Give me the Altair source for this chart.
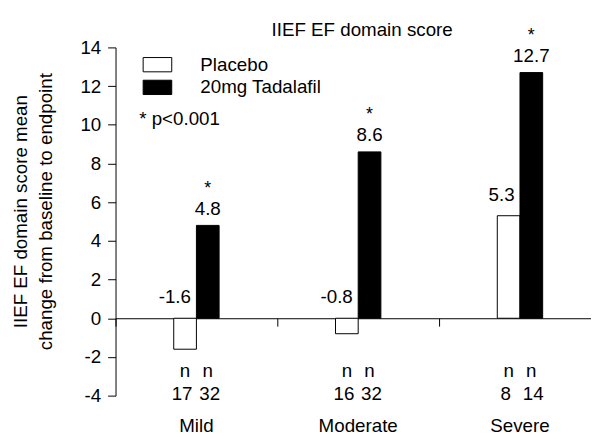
import altair as alt
import pandas as pd

# ---- data ----
categories = ["Mild", "Moderate", "Severe"]
groups = ["Placebo", "20mg Tadalafil"]
placebo_change = [-1.6, -0.8, 5.3]
tadalafil_change = [4.8, 8.6, 12.7]
placebo_n = [17, 16, 8]
tadalafil_n = [32, 32, 14]
tadalafil_significant = [True, True, True]
y_ticks = [-4, -2, 0, 2, 4, 6, 8, 10, 12, 14]
y_title = ["IIEF EF domain score mean", "change from baseline to endpoint"]
chart_title = ["IIEF EF domain score"]
p_note = ["* p<0.001"]
n_header_row = -2.75
n_count_row = -3.9

rows = []
for i, c in enumerate(categories):
    rows.append(dict(category=c, group=groups[0], value=placebo_change[i],
                     n=str(placebo_n[i]), star=""))
    rows.append(dict(category=c, group=groups[1], value=tadalafil_change[i],
                     n=str(tadalafil_n[i]), star="*" if tadalafil_significant[i] else ""))
df = pd.DataFrame(rows)
df["label_y"] = df["value"].clip(lower=0)
df["label"] = df["value"].map(lambda v: f"{v:.1f}")
df["nhead"] = "n"

FONT = "Liberation Sans"
FS = 19
W, H = 482, 353
BAND_SPAN = 492
BAND = BAND_SPAN / len(categories)
BAR_W = 23
ZERO_OFFSET = -H * (0 - y_ticks[0]) / (y_ticks[-1] - y_ticks[0])

x_scale = alt.Scale(domain=categories, range=[0, BAND_SPAN], paddingInner=0, paddingOuter=0)
xo_scale = alt.Scale(domain=groups, paddingInner=0, paddingOuter=0,
                     range=[BAND / 2 - BAR_W, BAND / 2 + BAR_W])
y_scale = alt.Scale(domain=[y_ticks[0], y_ticks[-1]], nice=False, zero=False)

base = alt.Chart(df)


def xnone():
    return alt.X("category:N", scale=x_scale, axis=None)


def xo():
    return alt.XOffset("group:N", scale=xo_scale)


bars = base.mark_bar(stroke="black", strokeWidth=1).encode(
    x=alt.X("category:N", scale=x_scale,
            axis=alt.Axis(orient="bottom", domain=False, ticks=False, labelAngle=0,
                          labelPadding=21, labelFontSize=FS, labelColor="black",
                          labelFont=FONT, title=None)),
    xOffset=xo(),
    y=alt.Y("value:Q", scale=y_scale, stack=None,
            axis=alt.Axis(values=y_ticks, tickSize=8, labelPadding=7, grid=False,
                          labelExpr="'' + datum.value",
                          labelFontSize=FS, labelColor="black", labelFont=FONT,
                          domainColor="black", tickColor="black",
                          title=y_title, titleFontSize=FS, titleFontWeight="normal",
                          titleColor="black", titleFont=FONT, titleLineHeight=25,
                          titlePadding=25, titleY=166)),
    color=alt.Color("group:N", scale=alt.Scale(domain=groups, range=["white", "black"]),
                    legend=alt.Legend(title=None, orient="none", direction="vertical",
                                      legendX=33, legendY=8,
                                      symbolType="M-2,-1H2V1H-2Z", symbolSize=210,
                                      symbolStrokeColor="black", symbolStrokeWidth=1,
                                      symbolOpacity=1,
                                      labelFontSize=FS, labelFont=FONT, labelColor="black",
                                      labelOffset=34, rowPadding=3, padding=0)),
)

placebo_labels = base.transform_filter(alt.datum.group == groups[0]).mark_text(
    align="right", baseline="alphabetic", dx=6, dy=-15, fontSize=FS, font=FONT, color="black"
).encode(x=xnone(), xOffset=xo(),
         y=alt.Y("label_y:Q", scale=y_scale, axis=None), text="label:N")

tad_labels = base.transform_filter(alt.datum.group == groups[1]).mark_text(
    align="center", baseline="alphabetic", dy=-11, fontSize=FS, font=FONT, color="black"
).encode(x=xnone(), xOffset=xo(),
         y=alt.Y("label_y:Q", scale=y_scale, axis=None), text="label:N")

stars = base.transform_filter(alt.datum.group == groups[1]).mark_text(
    align="center", baseline="alphabetic", dy=-32, fontSize=18, font=FONT, color="black"
).encode(x=xnone(), xOffset=xo(),
         y=alt.Y("label_y:Q", scale=y_scale, axis=None), text="star:N")

n_head = base.mark_text(
    align="center", baseline="middle", fontSize=FS, font=FONT, color="black"
).encode(
    x=alt.X("category:N", scale=x_scale,
            axis=alt.Axis(orient="bottom", offset=ZERO_OFFSET, labels=False, ticks=True,
                          tickSize=8, domain=True, bandPosition=0, title=None,
                          domainColor="black", tickColor="black")),
    xOffset=xo(),
    y=alt.YDatum(n_header_row, scale=y_scale, axis=None),
    text="nhead:N",
)

n_count_placebo = base.transform_filter(alt.datum.group == groups[0]).mark_text(
    align="center", baseline="middle", dx=-3, fontSize=FS, font=FONT, color="black"
).encode(x=xnone(), xOffset=xo(),
         y=alt.YDatum(n_count_row, scale=y_scale, axis=None), text="n:N")

n_count_tad = base.transform_filter(alt.datum.group == groups[1]).mark_text(
    align="center", baseline="middle", dx=2, fontSize=FS, font=FONT, color="black"
).encode(x=xnone(), xOffset=xo(),
         y=alt.YDatum(n_count_row, scale=y_scale, axis=None), text="n:N")

note = alt.Chart(pd.DataFrame({"t": p_note})).mark_text(
    align="left", baseline="middle", fontSize=FS, font=FONT, color="black"
).encode(x=alt.value(24), y=alt.value(73), text="t:N")

title_text = alt.Chart(pd.DataFrame({"t": chart_title})).mark_text(
    align="center", baseline="alphabetic", fontSize=FS, font=FONT, color="black"
).encode(x=alt.value(250), y=alt.value(-12), text="t:N")

chart = alt.layer(bars, placebo_labels, tad_labels, stars, n_head, n_count_placebo,
                  n_count_tad, note, title_text).resolve_axis(
    x="independent", y="independent"
).properties(
    width=W, height=H,
    autosize=alt.AutoSizeParams(type="none"),
    padding={"left": 109, "top": 37, "right": 0, "bottom": 41},
).configure(font=FONT).configure_view(stroke=None)

chart.save("out.html", embed_options={"renderer": "svg", "actions": False})
